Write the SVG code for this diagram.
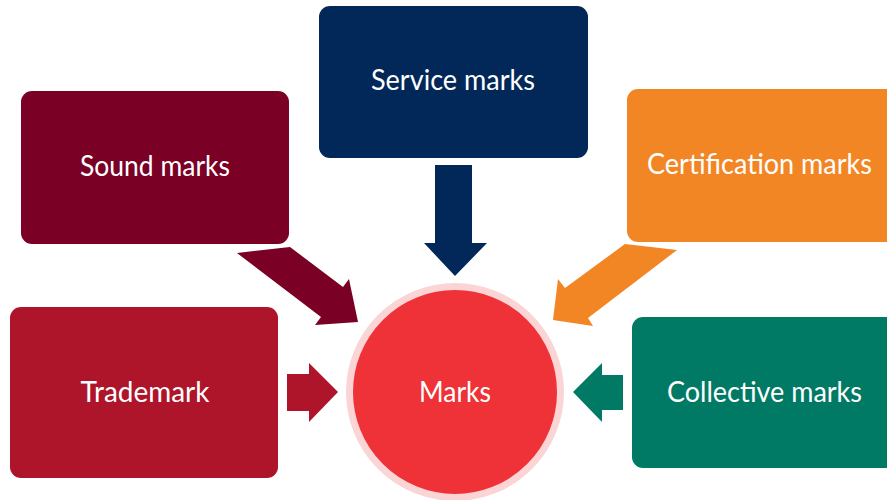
<svg xmlns="http://www.w3.org/2000/svg" width="887" height="500" viewBox="0 0 887 500">
<style>
.lbl{font-family:Lato,"Open Sans","Liberation Sans",sans-serif;font-size:28px;fill:#ffffff;text-anchor:middle;}
</style>
<rect width="887" height="500" fill="#ffffff"/>
<g id="connectors">
<polygon fill="#012858" points="435,165 472,165 472,243 487,243 455,276 424,243 435,243"/>
<polygon fill="#7A0025" points="237,253 290,247 343,287 349,279 358,322 315,325 321,317"/>
<polygon fill="#F38624" points="625,244 677,250 588,318 593,326 553,320 558,279 565,288"/>
<polygon fill="#AE142A" points="287,374 309,374 309,363 338,392 309,422 309,411 287,411"/>
<polygon fill="#007A64" points="623,375 602,375 602,363 573,392 602,422 602,410 623,410"/>
</g>
<g id="service">
<rect x="319" y="6" width="269" height="152" rx="11" fill="#012858"/>
<text class="lbl" x="453" y="90" textLength="164" lengthAdjust="spacingAndGlyphs">Service marks</text>
</g>
<g id="sound">
<rect x="21" y="91" width="268" height="153" rx="11" fill="#7A0025"/>
<text class="lbl" x="155" y="176" textLength="150" lengthAdjust="spacingAndGlyphs">Sound marks</text>
</g>
<g id="certification">
<rect x="627" y="89" width="275" height="153" rx="11" fill="#F38624"/>
<text class="lbl" x="759.5" y="174" textLength="225" lengthAdjust="spacingAndGlyphs">Certification marks</text>
</g>
<g id="trademark">
<rect x="10" y="307" width="268" height="171" rx="11" fill="#AE142A"/>
<text class="lbl" x="145" y="402" textLength="129" lengthAdjust="spacingAndGlyphs">Trademark</text>
</g>
<g id="collective">
<rect x="632" y="317" width="270" height="151" rx="11" fill="#007A64"/>
<text class="lbl" x="764.5" y="402" textLength="195" lengthAdjust="spacingAndGlyphs">Collective marks</text>
</g>
<g id="marks">
<circle cx="455" cy="392" r="105.5" fill="#EE3237" stroke="#FBD5D5" stroke-width="7"/>
<text class="lbl" x="455" y="402" textLength="72" lengthAdjust="spacingAndGlyphs">Marks</text>
</g>
</svg>
